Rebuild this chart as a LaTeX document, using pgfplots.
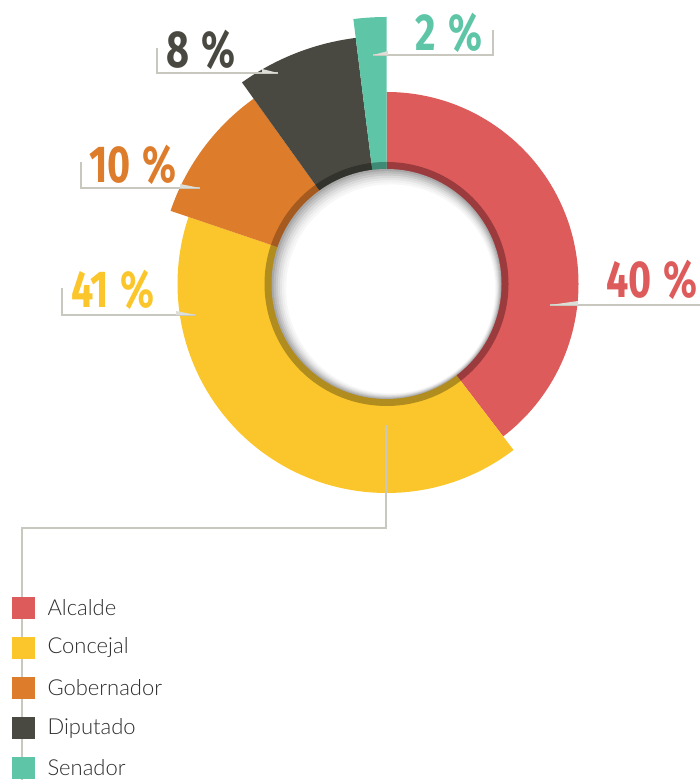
\documentclass[border=0pt]{standalone}
\usepackage{pgfplots}
\pgfplotsset{compat=1.18}
\usepackage{pgfplotstable}
\usepackage{fontspec}
\setmainfont{Lato Light}
\newfontfamily\pctfont[FakeStretch=0.76]{Fira Sans}
\definecolor{cA}{HTML}{DD5B5B}\definecolor{dA}{HTML}{9C3B3E}
\definecolor{cB}{HTML}{FBC62B}\definecolor{dB}{HTML}{B18C1E}
\definecolor{cC}{HTML}{DD7C2B}\definecolor{dC}{HTML}{A55A1F}
\definecolor{cD}{HTML}{4A4941}\definecolor{dD}{HTML}{33332D}
\definecolor{cE}{HTML}{5EC5A7}\definecolor{dE}{HTML}{3F8A74}
\definecolor{lineg}{HTML}{C8C8BE}
\definecolor{txt}{HTML}{2E2E2E}
\pgfplotstableread{
name value radius
Alcalde 40 192
Concejal 41 209
Gobernador 10 228
Diputado 8 248
Senador 2 267
}\slices
\newcommand\pct[1]{#1\kern12pt\%}
\begin{document}%
\pgfplotstablegetelem{0}{value}\of\slices \let\vA\pgfplotsretval%
\pgfplotstablegetelem{1}{value}\of\slices \let\vB\pgfplotsretval%
\pgfplotstablegetelem{2}{value}\of\slices \let\vC\pgfplotsretval%
\pgfplotstablegetelem{3}{value}\of\slices \let\vD\pgfplotsretval%
\pgfplotstablegetelem{4}{value}\of\slices \let\vE\pgfplotsretval%
\pgfplotstablegetelem{0}{radius}\of\slices \let\rA\pgfplotsretval%
\pgfplotstablegetelem{1}{radius}\of\slices \let\rB\pgfplotsretval%
\pgfplotstablegetelem{2}{radius}\of\slices \let\rC\pgfplotsretval%
\pgfplotstablegetelem{3}{radius}\of\slices \let\rD\pgfplotsretval%
\pgfplotstablegetelem{4}{radius}\of\slices \let\rE\pgfplotsretval%
\pgfmathsetmacro\tot{\vA+\vB+\vC+\vD+\vE}%
\pgfmathsetmacro\aZ{90}%
\pgfmathsetmacro\aA{\aZ-360*\vA/\tot}%
\pgfmathsetmacro\aB{\aA-360*\vB/\tot}%
\pgfmathsetmacro\aC{\aB-360*\vC/\tot}%
\pgfmathsetmacro\aD{\aC-360*\vD/\tot}%
\pgfmathsetmacro\aE{\aD-360*\vE/\tot}%
\begin{tikzpicture}
\begin{axis}[hide axis, scale only axis, width=700pt, height=783pt,
  xmin=0, xmax=700, ymin=0, ymax=783, clip=false]
\coordinate (ll) at (axis cs:0,0);
\coordinate (ur) at (axis cs:700,783);
\coordinate (c) at (axis cs:386.5,499);
% slices
\fill[cA] (c) -- ++(\aZ:\rA pt) arc[start angle=\aZ, end angle=\aA, radius=\rA pt] -- cycle;
\fill[cB] (c) -- ++(\aA:\rB pt) arc[start angle=\aA, end angle=\aB, radius=\rB pt] -- cycle;
\fill[cC] (c) -- ++(\aB:\rC pt) arc[start angle=\aB, end angle=\aC, radius=\rC pt] -- cycle;
\fill[cD] (c) -- ++(\aC:\rD pt) arc[start angle=\aC, end angle=\aD, radius=\rD pt] -- cycle;
\fill[cE] (c) -- ++(\aD:\rE pt) arc[start angle=\aD, end angle=\aE, radius=\rE pt] -- cycle;
% inner darker band
\fill[dA] (c) -- ++(\aZ:122pt) arc[start angle=\aZ, end angle=\aA, radius=122pt] -- cycle;
\fill[dB] (c) -- ++(\aA:122pt) arc[start angle=\aA, end angle=\aB, radius=122pt] -- cycle;
\fill[dC] (c) -- ++(\aB:122pt) arc[start angle=\aB, end angle=\aC, radius=122pt] -- cycle;
\fill[dD] (c) -- ++(\aC:122pt) arc[start angle=\aC, end angle=\aD, radius=122pt] -- cycle;
\fill[dE] (c) -- ++(\aD:122pt) arc[start angle=\aD, end angle=\aE, radius=122pt] -- cycle;
% hole with soft inner shadow (top-left)
\fill[black!34] (c) circle[radius=115pt];
\fill[black!27] ([shift={(0.6pt,-0.7pt)}]c) circle[radius=113.5pt];
\fill[black!21] ([shift={(1.2pt,-1.4pt)}]c) circle[radius=112pt];
\fill[black!15] ([shift={(1.8pt,-2.1pt)}]c) circle[radius=110.5pt];
\fill[black!10] ([shift={(2.4pt,-2.8pt)}]c) circle[radius=109pt];
\fill[black!6] ([shift={(3.0pt,-3.5pt)}]c) circle[radius=107.5pt];
\fill[black!3] ([shift={(3.6pt,-4.2pt)}]c) circle[radius=106pt];
\fill[white] ([shift={(4.2pt,-4.9pt)}]c) circle[radius=104.5pt];
% leader lines
\draw[lineg, line width=1.5pt] (axis cs:550,478) -- (axis cs:700,478);
\fill[lineg!60!white] (axis cs:550,478) -- (axis cs:578,478) -- (axis cs:578,482) -- cycle;
\draw[lineg, line width=1.5pt] (axis cs:62,495) -- (axis cs:62,468) -- (axis cs:196,468);
\fill[lineg!60!white] (axis cs:196,468) -- (axis cs:176,468) -- (axis cs:176,472) -- cycle;
\draw[lineg, line width=1.5pt] (axis cs:81,621) -- (axis cs:81,595) -- (axis cs:200,595);
\fill[lineg!60!white] (axis cs:200,595) -- (axis cs:180,595) -- (axis cs:180,599) -- cycle;
\draw[lineg, line width=1.5pt] (axis cs:157,735) -- (axis cs:157,710) -- (axis cs:278,710);
\fill[lineg!60!white] (axis cs:278,710) -- (axis cs:262,710) -- (axis cs:262,714) -- cycle;
\draw[lineg, line width=1.5pt] (axis cs:373,728) -- (axis cs:493,728) -- (axis cs:493,753);
\fill[lineg!60!white] (axis cs:373,728) -- (axis cs:388,728) -- (axis cs:388,732) -- cycle;
% connector to legend
\draw[lineg, line width=1.5pt] (axis cs:386,358) -- (axis cs:386,255) -- (axis cs:22,255) -- (axis cs:22,3);
% percentage labels
\node[cA, font=\pctfont\bfseries\fontsize{52}{52}\selectfont] at (axis cs:652,503) {\pct{40}};
\node[cB, font=\pctfont\bfseries\fontsize{52}{52}\selectfont] at (axis cs:113,493) {\pct{41}};
\node[cC, font=\pctfont\bfseries\fontsize{52}{52}\selectfont] at (axis cs:133,618) {\pct{10}};
\node[cD, font=\pctfont\bfseries\fontsize{52}{52}\selectfont] at (axis cs:201,733) {\pct{8}};
\node[cE, font=\pctfont\bfseries\fontsize{52}{52}\selectfont] at (axis cs:449,750) {\pct{2}};
% legend
\fill[cA] (axis cs:12,164) rectangle (axis cs:35,186);
\fill[cB] (axis cs:12,124) rectangle (axis cs:35,146);
\fill[cC] (axis cs:12,84) rectangle (axis cs:35,106);
\fill[cD] (axis cs:12,44) rectangle (axis cs:35,66);
\fill[cE] (axis cs:12,4) rectangle (axis cs:35,26);
\node[anchor=west, txt, font=\fontsize{22}{22}\selectfont] at (axis cs:44,175) {Alcalde};
\node[anchor=west, txt, font=\fontsize{22}{22}\selectfont] at (axis cs:44,135) {Concejal};
\node[anchor=west, txt, font=\fontsize{22}{22}\selectfont] at (axis cs:44,95) {Gobernador};
\node[anchor=west, txt, font=\fontsize{22}{22}\selectfont] at (axis cs:44,55) {Diputado};
\node[anchor=west, txt, font=\fontsize{22}{22}\selectfont] at (axis cs:44,15) {Senador};
\end{axis}
\pgfresetboundingbox
\useasboundingbox (ll) rectangle (ur);
\end{tikzpicture}%
\end{document}
